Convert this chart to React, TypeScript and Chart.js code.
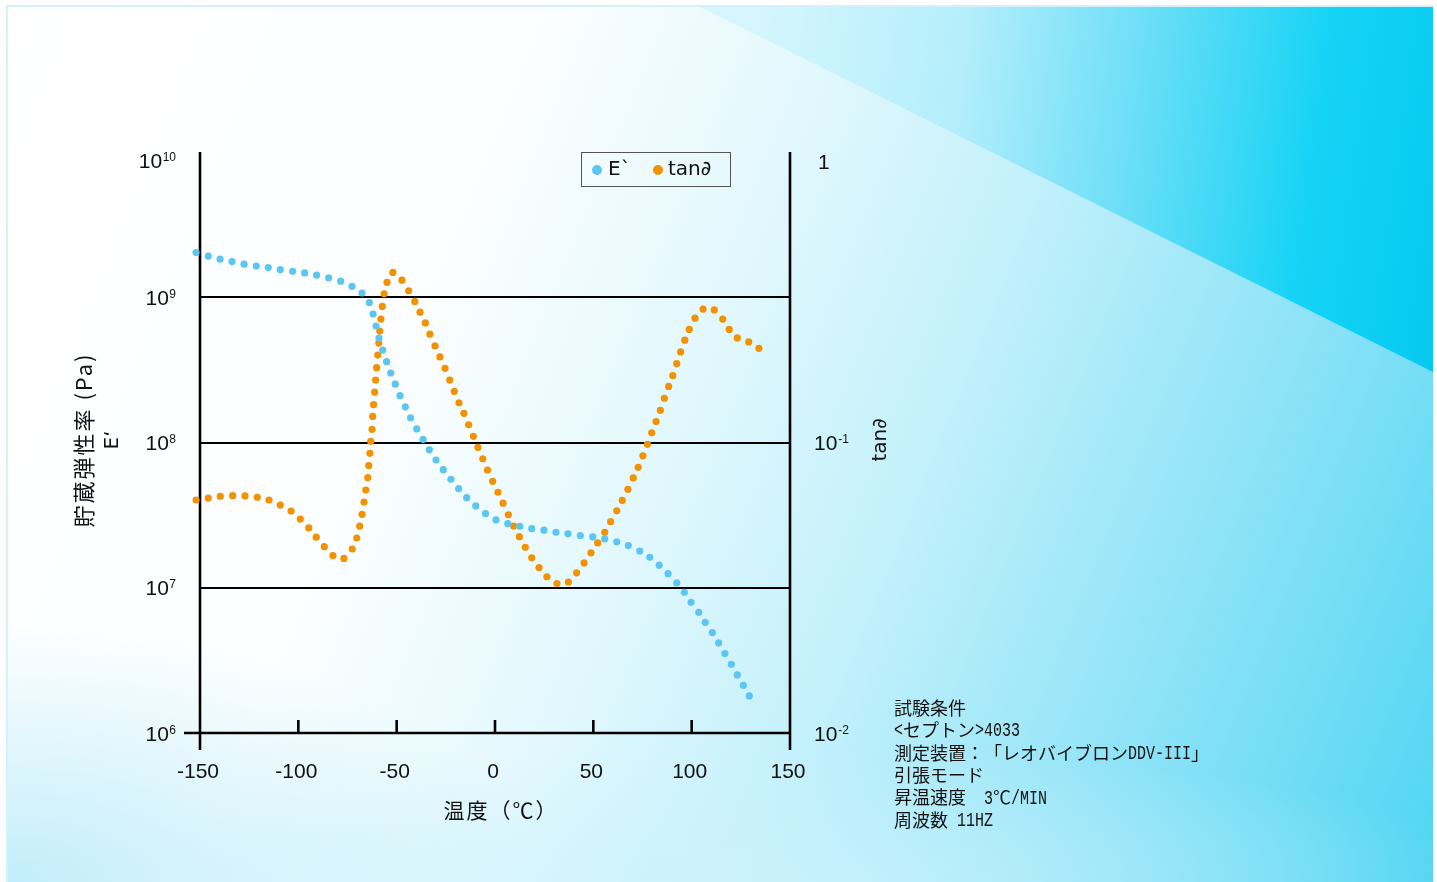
import React, { useEffect, useRef } from "react";
import { Chart, registerables } from "chart.js";

Chart.register(...registerables);

// ---------- data ----------
const eTemps = [
  -152.0, -145.8, -139.8, -133.7, -127.6, -121.4, -115.3, -109.2, -102.9, -96.8,
  -90.7, -84.6, -78.5, -72.7, -67.6, -63.9, -62.0, -60.5, -59.0, -57.1,
  -55.1, -53.0, -50.7, -48.3, -45.6, -42.9, -39.8, -36.6, -33.4, -30.0,
  -26.3, -22.4, -18.5, -14.4, -9.8, -4.8, 0.5, 6.5, 12.6, 18.7,
  24.9, 31.0, 37.1, 43.4, 49.7, 55.8, 61.9, 67.8, 73.6, 78.7,
  83.5, 88.0, 92.4, 96.3, 99.7, 103.6, 106.9, 110.5, 113.7, 116.9,
  120.2, 123.2, 126.3, 129.3,
];
const eValues = [
  2.03e9, 1.92e9, 1.83e9, 1.76e9, 1.69e9, 1.64e9, 1.6e9, 1.55e9, 1.51e9, 1.47e9,
  1.42e9, 1.36e9, 1.29e9, 1.19e9, 1.07e9, 9.17e8, 7.67e8, 6.34e8, 5.24e8, 4.33e8,
  3.6e8, 3.01e8, 2.52e8, 2.1e8, 1.76e8, 1.48e8, 1.24e8, 1.05e8, 8.91e7, 7.58e7,
  6.5e7, 5.58e7, 4.81e7, 4.17e7, 3.66e7, 3.24e7, 2.93e7, 2.76e7, 2.65e7, 2.55e7,
  2.49e7, 2.41e7, 2.35e7, 2.29e7, 2.24e7, 2.17e7, 2.07e7, 1.95e7, 1.79e7, 1.62e7,
  1.43e7, 1.25e7, 1.08e7, 9.31e6, 7.94e6, 6.78e6, 5.78e6, 4.91e6, 4.17e6, 3.52e6,
  2.97e6, 2.51e6, 2.13e6, 1.8e6,
];
const tanTemps = [
  -152.0, -145.8, -139.7, -133.4, -127.1, -120.9, -114.9, -109.2, -103.7, -99.0,
  -94.7, -90.9, -86.8, -82.4, -76.8, -72.6, -70.3, -68.8, -67.6, -66.6,
  -65.7, -64.7, -64.2, -63.6, -63.2, -62.5, -62.2, -61.7, -61.2, -60.7,
  -60.2, -59.6, -59.1, -58.6, -58.0, -57.3, -56.4, -54.9, -51.9, -47.3,
  -43.9, -40.8, -38.1, -35.4, -33.1, -30.5, -28.0, -25.4, -23.0, -20.7,
  -18.3, -15.8, -13.4, -11.0, -8.7, -6.2, -3.8, -1.2, 1.5, 4.1,
  6.8, 9.5, 12.4, 15.4, 18.7, 22.4, 26.4, 31.5, 37.3, 41.5,
  45.3, 48.8, 52.2, 55.8, 58.8, 61.9, 64.7, 67.6, 70.3, 72.8,
  75.2, 77.5, 79.7, 81.9, 84.1, 86.1, 88.3, 90.4, 92.4, 94.4,
  96.5, 98.8, 101.7, 105.8, 111.5, 115.8, 119.1, 123.2, 129.0, 134.2,
];
const tanValues = [
  0.0634, 0.0644, 0.0653, 0.0656, 0.0655, 0.0648, 0.0634, 0.0609, 0.0581, 0.0545,
  0.0508, 0.0472, 0.0438, 0.0408, 0.0399, 0.043, 0.0469, 0.0515, 0.0566, 0.0624,
  0.0686, 0.0757, 0.0832, 0.0918, 0.101, 0.111, 0.123, 0.135, 0.149, 0.164,
  0.181, 0.2, 0.22, 0.242, 0.266, 0.294, 0.325, 0.356, 0.385, 0.362,
  0.333, 0.306, 0.281, 0.258, 0.236, 0.215, 0.197, 0.18, 0.164, 0.15,
  0.137, 0.126, 0.115, 0.105, 0.0962, 0.0879, 0.0804, 0.0735, 0.0674, 0.0618,
  0.0564, 0.0516, 0.0474, 0.0436, 0.0401, 0.0371, 0.0345, 0.0327, 0.0331, 0.0356,
  0.0385, 0.0417, 0.0451, 0.0491, 0.0534, 0.0582, 0.0632, 0.069, 0.0755, 0.0822,
  0.09, 0.0986, 0.108, 0.118, 0.129, 0.142, 0.156, 0.17, 0.187, 0.205,
  0.225, 0.245, 0.268, 0.288, 0.286, 0.266, 0.245, 0.229, 0.222, 0.211,
];

const xTicks = [-150, -100, -50, 0, 50, 100, 150];
const eTicks = [1e6, 1e7, 1e8, 1e9, 1e10];
const eTickExps = ["6", "7", "8", "9", "10"];
const tanTicks = [0.01, 0.1, 1];
const tanTickBases = ["10", "10", "1"];
const tanTickExps = ["-2", "-1", ""];

const seriesNames = ["E`", "tan\u2202"];
const xTitle = "温度（℃）";
const yTitle = "貯蔵弾性率 (Pa)";
const yTitle2 = "E‘";
const y2Title = "tan\u2202";
const notes = [
  "試験条件",
  "<セプトン>4033",
  "測定装置：「レオバイブロンDDV-III」",
  "引張モード",
  "昇温速度　3℃/MIN",
  "周波数 11HZ",
];

const BLUE = "#5cc6f2";
const ORANGE = "#f39200";
const NUM_FONT = '"Liberation Sans", Arial, sans-serif';
const SANS_FONT = '"DejaVu Sans", Verdana, sans-serif';
const JP_FONT = '"Noto Sans CJK JP", sans-serif';
const PUNCT = "：「」（）　、。";

function drawMixed(ctx: CanvasRenderingContext2D, text: string, x: number, y: number) {
  const runs: { kind: string; s: string }[] = [];
  for (const ch of text) {
    const kind = ch.charCodeAt(0) < 128 ? "a" : PUNCT.includes(ch) ? "p" : "j";
    const last = runs[runs.length - 1];
    if (last && last.kind === kind && kind !== "p") last.s += ch;
    else runs.push({ kind, s: ch });
  }
  let cx = x;
  for (const r of runs) {
    if (r.kind === "a") {
      ctx.font = '21px "Liberation Mono", monospace';
      const w = ctx.measureText(r.s).width;
      const sx = (r.s.length * 9) / w;
      ctx.save();
      ctx.translate(cx, y + 0.5);
      ctx.scale(sx, 1);
      ctx.fillText(r.s, 0, 0);
      ctx.restore();
      cx += r.s.length * 9;
    } else {
      ctx.font = "18px " + JP_FONT;
      const n = Array.from(r.s).length;
      const w = ctx.measureText(r.s).width;
      if (r.kind === "p" && w < 17) {
        ctx.fillText(r.s, cx + (18 - w) * (r.s === "」" ? 0.3 : r.s === "「" ? 1 : 0.5), y);
      } else {
        ctx.fillText(r.s, cx, y);
      }
      cx += n * 18;
    }
  }
}

const customDraw = {
  id: "customDraw",
  beforeDatasetsDraw(chart: any) {
    const { ctx, chartArea, scales } = chart;
    const { left, right, top, bottom } = chartArea;
    ctx.save();
    ctx.strokeStyle = "#000";
    ctx.lineWidth = 2;
    eTicks.forEach((v) => {
      if (v === eTicks[0] || v === eTicks[eTicks.length - 1]) return;
      const y = Math.round(scales.y.getPixelForValue(v));
      ctx.beginPath();
      ctx.moveTo(left, y);
      ctx.lineTo(right, y);
      ctx.stroke();
    });
    ctx.lineWidth = 2.6;
    const yb = scales.y.getPixelForValue(eTicks[0]);
    ctx.beginPath();
    ctx.moveTo(left - 16, yb);
    ctx.lineTo(right, yb);
    ctx.stroke();
    ctx.beginPath();
    ctx.moveTo(left, top);
    ctx.lineTo(left, bottom + 17);
    ctx.moveTo(right, top);
    ctx.lineTo(right, bottom + 17);
    ctx.stroke();
    xTicks.forEach((v, i) => {
      if (i === 0 || i === xTicks.length - 1) return;
      const x = scales.x.getPixelForValue(v);
      ctx.beginPath();
      ctx.moveTo(x, bottom - 13);
      ctx.lineTo(x, bottom);
      ctx.stroke();
    });
    ctx.restore();
  },
  afterDatasetsDraw(chart: any) {
    const { ctx, chartArea, scales } = chart;
    const { top, bottom } = chartArea;
    ctx.save();
    ctx.fillStyle = "#111";
    ctx.textBaseline = "alphabetic";

    eTicks.forEach((v, i) => {
      const py = Math.max(scales.y.getPixelForValue(v), top + 8);
      const base = py + 7.5;
      ctx.font = "12px " + NUM_FONT;
      const sw = ctx.measureText(eTickExps[i]).width;
      ctx.textAlign = "left";
      ctx.fillText(eTickExps[i], 176 - sw, base - 7);
      ctx.font = "21px " + NUM_FONT;
      ctx.textAlign = "right";
      ctx.fillText("10", 176 - sw - 0.5, base);
    });

    tanTicks.forEach((v, i) => {
      const py = Math.max(scales.y2.getPixelForValue(v), top + 9);
      const base = py + 7.5;
      ctx.textAlign = "left";
      ctx.font = "21px " + NUM_FONT;
      const label = tanTickBases[i];
      const lx = label === "1" ? 818 : 814;
      ctx.fillText(label, lx, base);
      const w = ctx.measureText(label).width;
      if (tanTickExps[i]) {
        ctx.font = "12px " + NUM_FONT;
        ctx.fillText(tanTickExps[i], lx + w + 1, base - 7);
      }
    });

    ctx.font = "21px " + NUM_FONT;
    ctx.textAlign = "center";
    xTicks.forEach((v) => {
      const x = scales.x.getPixelForValue(v) - 2;
      ctx.fillText(String(v), x, bottom + 44.5);
    });

    ctx.textBaseline = "middle";
    ctx.textAlign = "center";
    ctx.font = "21px " + JP_FONT;
    (ctx as any).letterSpacing = "2px";
    ctx.fillText(xTitle, 501, 810);

    ctx.save();
    ctx.translate(84, 440);
    ctx.rotate(-Math.PI / 2);
    ctx.font = "22px " + JP_FONT;
    ctx.fillText(yTitle, 0, 0);
    ctx.restore();
    (ctx as any).letterSpacing = "0px";

    ctx.save();
    ctx.translate(113, 440);
    ctx.rotate(-Math.PI / 2);
    ctx.font = "20px " + SANS_FONT;
    ctx.fillText(yTitle2, 0, 0);
    ctx.restore();

    ctx.save();
    ctx.translate(881, 440);
    ctx.rotate(-Math.PI / 2);
    ctx.font = "20px " + SANS_FONT;
    ctx.fillText(y2Title, 0, 0);
    ctx.restore();

    ctx.strokeStyle = "#555";
    ctx.lineWidth = 1;
    ctx.strokeRect(581.5, 152.5, 149, 34);
    const legendItems = [
      { color: BLUE, dot: 597, tx: 608 },
      { color: ORANGE, dot: 658, tx: 668 },
    ];
    legendItems.forEach((it, i) => {
      ctx.fillStyle = it.color;
      ctx.beginPath();
      ctx.arc(it.dot, 170, 5, 0, Math.PI * 2);
      ctx.fill();
      ctx.fillStyle = "#111";
      ctx.font = "20px " + SANS_FONT;
      ctx.textAlign = "left";
      ctx.textBaseline = "middle";
      ctx.fillText(seriesNames[i], it.tx, 170);
    });

    ctx.fillStyle = "#111";
    ctx.textAlign = "left";
    ctx.textBaseline = "middle";
    notes.forEach((line, i) => {
      drawMixed(ctx, line, 894, 708 + i * 22.4);
    });
    ctx.restore();
  },
};

export default function App() {
  const ref = useRef<HTMLCanvasElement | null>(null);

  useEffect(() => {
    if (!ref.current) return;
    const chart = new Chart(ref.current, {
      type: "scatter",
      data: {
        datasets: [
          {
            label: seriesNames[0],
            data: eTemps.map((t, i) => ({ x: t, y: eValues[i] })),
            yAxisID: "y",
            backgroundColor: BLUE,
            borderColor: BLUE,
            pointRadius: 3.6,
            pointBorderWidth: 0,
            showLine: false,
            clip: false as any,
          },
          {
            label: seriesNames[1],
            data: tanTemps.map((t, i) => ({ x: t, y: tanValues[i] })),
            yAxisID: "y2",
            backgroundColor: ORANGE,
            borderColor: ORANGE,
            pointRadius: 3.6,
            pointBorderWidth: 0,
            showLine: false,
            clip: false as any,
          },
        ],
      },
      options: {
        animation: false,
        responsive: false,
        devicePixelRatio: 1,
        layout: { padding: { left: 200, right: 647, top: 152, bottom: 149 } },
        plugins: { legend: { display: false }, tooltip: { enabled: false } },
        scales: {
          x: { type: "linear", min: xTicks[0], max: xTicks[xTicks.length - 1], display: false },
          y: { type: "logarithmic", min: eTicks[0], max: eTicks[eTicks.length - 1], display: false, position: "left" },
          y2: { type: "logarithmic", min: tanTicks[0], max: tanTicks[tanTicks.length - 1], display: false, position: "right" },
        },
      },
      plugins: [customDraw],
    });
    return () => chart.destroy();
  }, []);

  const base =
    "radial-gradient(ellipse 520px 260px at 0% 100%, rgba(190,236,250,0.95) 0%, rgba(190,236,250,0) 100%)," +
    "radial-gradient(ellipse 700px 140px at 55% 100%, rgba(205,242,252,0.7) 0%, rgba(205,242,252,0) 100%)," +
    "linear-gradient(112deg, #ffffff 0%, #fcfeff 30%, #e2f8fd 47%, #c2f0fb 62%, #8ee3f7 80%, #4fd5f3 100%)";
  const tri =
    "linear-gradient(98deg, #d6f6fd 48%, #b4eefb 62%, #6adef7 74%, #14d3f5 86%, #00c4ee 100%)";

  return (
    <div
      style={{
        position: "fixed",
        left: 0,
        top: 0,
        width: 1437,
        height: 882,
        background: "#ffffff",
        overflow: "hidden",
      }}
    >
      <div
        style={{
          position: "absolute",
          left: 6,
          top: 5,
          width: 1427,
          height: 880,
          boxSizing: "border-box",
          borderTop: "2px solid #d3f0fb",
          borderLeft: "2px solid #d3f0fb",
          background: base,
          overflow: "hidden",
        }}
      >
        <div
          style={{
            position: "absolute",
            left: 0,
            top: 0,
            width: "100%",
            height: "100%",
            clipPath: "polygon(692px 0px, 1427px 0px, 1427px 366px)",
            background: tri,
          }}
        />
      </div>
      <canvas
        ref={ref}
        width={1437}
        height={882}
        style={{ position: "absolute", left: 0, top: 0, width: 1437, height: 882 }}
      />
    </div>
  );
}
